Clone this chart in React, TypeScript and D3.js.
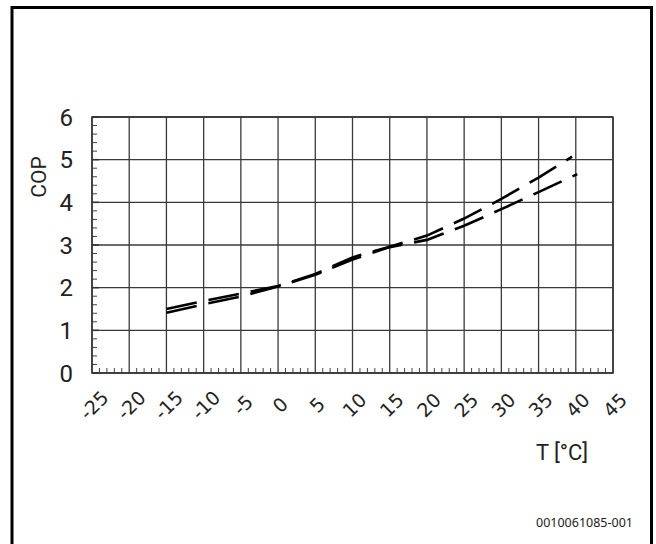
import React from "react";
import * as d3 from "d3";

const xTicks = [-25, -20, -15, -10, -5, 0, 5, 10, 15, 20, 25, 30, 35, 40, 45];
const yTicks = [0, 1, 2, 3, 4, 5, 6];
const temps1 = [-15, -10, -5, 0, 5, 10, 15, 20, 25, 30, 35, 39.5];
const cop1 = [1.5, 1.69, 1.86, 2.04, 2.32, 2.71, 2.96, 3.22, 3.62, 4.08, 4.58, 5.07];
const temps2 = [-15, -10, -5, 0, 5, 10, 15, 20, 25, 30, 35, 40.2];
const cop2 = [1.41, 1.61, 1.79, 2.03, 2.3, 2.66, 2.95, 3.12, 3.45, 3.84, 4.24, 4.66];
const xLabel = "T [°C]";
const yLabel = "COP";
const docId = "0010061085-001";

const W = 656, H = 544;
const L = 92, R = 613, T = 117, B = 373;

export default function App() {
  const x = d3.scaleLinear().domain([-25, 45]).range([L, R]);
  const y = d3.scaleLinear().domain([0, 6]).range([B, T]);
  const line = d3.line<[number, number]>().x(d => x(d[0])).y(d => y(d[1]));
  const s1 = temps1.map((t, i) => [t, cop1[i]] as [number, number]);
  const s2 = temps2.map((t, i) => [t, cop2[i]] as [number, number]);
  const xMinor = d3.range(-25, 45.01, 1).filter(v => v % 5 !== 0);
  const yMinor = d3.range(0, 6.001, 0.2).filter(v => Math.abs(v - Math.round(v)) > 0.01);
  const font = "'Liberation Sans Narrow', 'Roboto', sans-serif";
  return (
    <svg width={W} height={H} style={{ position: "absolute", left: 0, top: 0 }}>
      <rect x={0} y={0} width={W} height={H} fill="#fff" />
      <path d={`M12,${H + 5}V7.5H651.5V${H + 5}`} fill="none" stroke="#000" strokeWidth={3} />
      {/* grid */}
      {xTicks.map(v => (
        <line key={"gx" + v} x1={x(v)} x2={x(v)} y1={T} y2={B} stroke="#3a3a3a" strokeWidth={1.3} />
      ))}
      {yTicks.map(v => (
        <line key={"gy" + v} x1={L} x2={R} y1={y(v)} y2={y(v)} stroke="#3a3a3a" strokeWidth={1.3} />
      ))}
      {xMinor.map(v => (
        <line key={"mx" + v} x1={x(v)} x2={x(v)} y1={B} y2={B - 5} stroke="#444" strokeWidth={1} />
      ))}
      {yMinor.map(v => (
        <line key={"my" + v} x1={L} x2={L + 5} y1={y(v)} y2={y(v)} stroke="#444" strokeWidth={1} />
      ))}
      {yTicks.map(v => (
        <line key={"My" + v} x1={L} x2={L + 7} y1={y(v)} y2={y(v)} stroke="#333" strokeWidth={1.5} />
      ))}
      <rect x={L} y={T} width={R - L} height={B - T} fill="none" stroke="#333" strokeWidth={1.5} />
      {/* series */}
      <path d={line(s1) || ""} fill="none" stroke="#000" strokeWidth={2.6} strokeDasharray="31 12" />
      <path d={line(s2) || ""} fill="none" stroke="#000" strokeWidth={2.6} strokeDasharray="31 12" />
      {/* y tick labels */}
      {yTicks.map(v => (
        <text key={"ly" + v} x={73} y={y(v)} dy="0.36em" textAnchor="end" fontFamily={font} fontSize={24} fill="#222">
          {v}
        </text>
      ))}
      <text transform={`translate(46,177) rotate(-90)`} textAnchor="middle" fontFamily={font} fontSize={21} fill="#222">
        {yLabel}
      </text>
      {/* x tick labels */}
      {xTicks.map(v => (
        <text key={"lx" + v} transform={`translate(${x(v) + 2},405) rotate(-45)`} textAnchor="middle" dy="0.36em"
          fontFamily="'DejaVu Sans', sans-serif" fontSize={19} fill="#222">
          {v}
        </text>
      ))}
      <text x={562} y={452} dy="0.36em" textAnchor="middle" fontFamily={font} fontSize={22} fill="#222">
        {xLabel}
      </text>
      <text x={633} y={527} textAnchor="end" fontFamily="'Noto Sans', sans-serif" fontSize={12.5} fill="#222">
        {docId}
      </text>
    </svg>
  );
}
